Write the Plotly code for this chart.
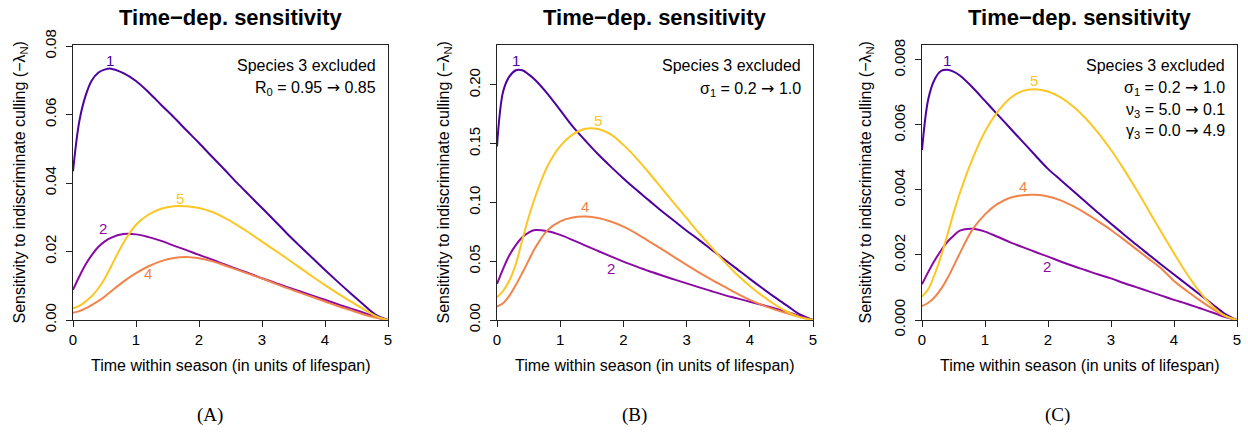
import plotly.graph_objects as go

# ---------------- data ----------------
t = [0, 0.1, 0.2, 0.3, 0.4, 0.5, 0.6, 0.8, 1.0, 1.2, 1.4, 1.6, 1.8, 2.0, 2.2, 2.4, 2.6, 2.8,
     3.0, 3.2, 3.4, 3.6, 3.8, 4.0, 4.2, 4.4, 4.6, 4.8, 5.0]

# Panel A: R0 = 0.95 -> 0.85
A1 = [0.0434, 0.0580, 0.0655, 0.0700, 0.0722, 0.0731, 0.0734, 0.0721, 0.0698, 0.0665, 0.0628, 0.0592, 0.0554, 0.0517, 0.0478, 0.0440, 0.0401, 0.0364,
      0.0327, 0.0290, 0.0252, 0.0216, 0.0181, 0.0146, 0.0112, 0.0079, 0.0047, 0.0016, 0.0]
A2 = [0.0088, 0.0127, 0.0162, 0.0190, 0.0213, 0.0229, 0.0240, 0.0251, 0.0250, 0.0242, 0.0231, 0.0217, 0.0204, 0.0190, 0.0177, 0.0163, 0.0149, 0.0136,
      0.0122, 0.0109, 0.0096, 0.0084, 0.0071, 0.0059, 0.0046, 0.0034, 0.0022, 0.0009, 0.0]
A4 = [0.0021, 0.0026, 0.0034, 0.0044, 0.0055, 0.0068, 0.0083, 0.0112, 0.0137, 0.0157, 0.0172, 0.0181, 0.0184, 0.0180, 0.0172, 0.0160, 0.0147, 0.0134,
      0.0121, 0.0107, 0.0093, 0.0080, 0.0067, 0.0054, 0.0041, 0.0029, 0.0017, 0.0007, 0.0]
A5 = [0.0034, 0.0041, 0.0054, 0.0070, 0.0092, 0.0120, 0.0155, 0.0225, 0.0278, 0.0308, 0.0325, 0.0332, 0.0332, 0.0327, 0.0316, 0.0299, 0.0278, 0.0254,
      0.0229, 0.0204, 0.0179, 0.0153, 0.0127, 0.0102, 0.0078, 0.0055, 0.0033, 0.0012, 0.0]

# Panel B: sigma1 = 0.2 -> 1.0
B1 = [0.1477, 0.1950, 0.2075, 0.2125, 0.2125, 0.2090, 0.2045, 0.1925, 0.1785, 0.1645, 0.1525, 0.1410, 0.1305, 0.1205, 0.1110, 0.1020, 0.0930, 0.0845,
      0.0760, 0.0680, 0.0597, 0.0515, 0.0433, 0.0350, 0.0270, 0.0192, 0.0118, 0.0045, 0.0]
B2 = [0.0307, 0.0440, 0.0555, 0.0640, 0.0705, 0.0744, 0.0765, 0.0755, 0.0724, 0.0680, 0.0633, 0.0587, 0.0542, 0.0497, 0.0456, 0.0417, 0.0381, 0.0346,
      0.0312, 0.0278, 0.0244, 0.0212, 0.0184, 0.0156, 0.0127, 0.0098, 0.0067, 0.0034, 0.0]
B4 = [0.0114, 0.0145, 0.0210, 0.0300, 0.0400, 0.0505, 0.0610, 0.0765, 0.0840, 0.0873, 0.0880, 0.0868, 0.0838, 0.0795, 0.0738, 0.0672, 0.0605, 0.0537,
      0.0469, 0.0404, 0.0342, 0.0283, 0.0225, 0.0172, 0.0127, 0.0088, 0.0055, 0.0024, 0.0]
B5 = [0.0193, 0.0250, 0.0340, 0.0480, 0.0680, 0.0875, 0.1040, 0.1310, 0.1480, 0.1580, 0.1628, 0.1625, 0.1580, 0.1490, 0.1380, 0.1255, 0.1125, 0.0995,
      0.0866, 0.0738, 0.0615, 0.0495, 0.0385, 0.0290, 0.0205, 0.0130, 0.0068, 0.0022, 0.0]

# Panel C: sigma1, nu3, gamma3 changed
C1 = [0.00523, 0.00680, 0.00740, 0.00766, 0.00770, 0.00764, 0.00752, 0.00716, 0.00674, 0.00632, 0.00590, 0.00548, 0.00506, 0.00465, 0.00431, 0.00397, 0.00363, 0.00329,
      0.00296, 0.00264, 0.00232, 0.00201, 0.00170, 0.00140, 0.00110, 0.00080, 0.00050, 0.00020, 0.0]
C2 = [0.00110, 0.00148, 0.00183, 0.00213, 0.00240, 0.00259, 0.00275, 0.00281, 0.00272, 0.00256, 0.00239, 0.00224, 0.00209, 0.00195, 0.00180, 0.00166, 0.00153, 0.00140,
      0.00128, 0.00114, 0.00101, 0.00088, 0.00075, 0.00062, 0.00050, 0.00037, 0.00024, 0.00010, 0.0]
C4 = [0.00043, 0.00053, 0.00070, 0.00095, 0.00127, 0.00165, 0.00205, 0.00278, 0.00325, 0.00357, 0.00376, 0.00384, 0.00385, 0.00380, 0.00368, 0.00350, 0.00328, 0.00303,
      0.00277, 0.00248, 0.00218, 0.00188, 0.00158, 0.00120, 0.00090, 0.00062, 0.00036, 0.00013, 0.0]
C5 = [0.00072, 0.00095, 0.00140, 0.00195, 0.00260, 0.00328, 0.00390, 0.00495, 0.00580, 0.00640, 0.00682, 0.00705, 0.00710, 0.00703, 0.00685, 0.00657, 0.00620, 0.00575,
      0.00523, 0.00465, 0.00402, 0.00336, 0.00270, 0.00205, 0.00143, 0.00089, 0.00045, 0.00014, 0.0]

species = ["1", "2", "4", "5"]
colors = {"1": "#4C02A1", "2": "#8B0AA5", "4": "#F1844B", "5": "#FCC625"}

ARROW = "<span style=\"font-family:'DejaVu Sans'\">\u2192</span>"

panels = [
    {"series": {"1": A1, "2": A2, "4": A4, "5": A5},
     "ymax": 0.0803, "ytick": [0, 0.02, 0.04, 0.06, 0.08], "fmt": ".2f",
     "labels": {"1": (0.59, 0.0759), "2": (0.48, 0.0266), "4": (1.19, 0.0137), "5": (1.70, 0.0356)},
     "notes": ["Species 3 excluded", "R<sub>0</sub> = 0.95 " + ARROW + " 0.85"],
     "tag": "(A)"},
    {"series": {"1": B1, "2": B2, "4": B4, "5": B5},
     "ymax": 0.234, "ytick": [0, 0.05, 0.10, 0.15, 0.20], "fmt": ".2f",
     "labels": {"1": (0.30, 0.221), "2": (1.80, 0.044), "4": (1.40, 0.0965), "5": (1.60, 0.170)},
     "notes": ["Species 3 excluded", "\u03c3<sub>1</sub> = 0.2 " + ARROW + " 1.0"],
     "tag": "(B)"},
    {"series": {"1": C1, "2": C2, "4": C4, "5": C5},
     "ymax": 0.00846, "ytick": [0, 0.002, 0.004, 0.006, 0.008], "fmt": ".3f",
     "labels": {"1": (0.39, 0.00798), "2": (1.99, 0.00164), "4": (1.60, 0.00412), "5": (1.78, 0.00736)},
     "notes": ["Species 3 excluded", "\u03c3<sub>1</sub> = 0.2 " + ARROW + " 1.0",
               "\u03bd<sub>3</sub> = 5.0 " + ARROW + " 0.1", "\u03b3<sub>3</sub> = 0.0 " + ARROW + " 4.9"],
     "tag": "(C)"},
]

title_text = "Time\u2212dep. sensitivity"
xlab = "Time within season (in units of lifespan)"
ylab = "Sensitivity to indiscriminate culling (\u2212\u03bb<sub>N</sub>)"
xticks = [0, 1, 2, 3, 4, 5]

# ---------------- layout geometry (pixels) ----------------
W, H = 1248, 436
left_px = [73, 497, 922]
right_px = [388, 813, 1237]
top_px, bot_px = 45, 320
ytitle_px = [20, 444, 866]
tag_px = [210, 634, 1057]
note_y_px = [[65, 88], [65, 89], [65, 88, 110, 131]]

FONT = "Liberation Sans, Arial, Helvetica, sans-serif"
fig = go.Figure()
annotations = []
layout = dict(width=W, height=H, margin=dict(l=0, r=0, t=0, b=0, autoexpand=False),
              paper_bgcolor="white", plot_bgcolor="white", showlegend=False,
              font=dict(family=FONT, size=15, color="black"))

for i, p in enumerate(panels):
    k = "" if i == 0 else str(i + 1)
    xa, ya = "x" + k, "y" + k
    for s in species:
        fig.add_trace(go.Scatter(x=t, y=p["series"][s], mode="lines",
                                 line=dict(color=colors[s], width=2, shape="spline", smoothing=1.0),
                                 xaxis=xa, yaxis=ya, hoverinfo="skip"))
    xd = [left_px[i] / W, right_px[i] / W]
    yd = [(H - bot_px) / H, (H - top_px) / H]
    layout["xaxis" + k] = dict(domain=xd, range=[0, 5], anchor=ya, tickvals=xticks, automargin=False,
                               showline=True, mirror=True, linecolor="#222", linewidth=1,
                               ticks="outside", ticklen=6, tickcolor="#222", showgrid=False,
                               zeroline=False, tickfont=dict(size=15))
    layout["yaxis" + k] = dict(domain=yd, range=[0, p["ymax"]], anchor=xa, tickvals=p["ytick"],
                               tickformat=p["fmt"], tickangle=-90, automargin=False,
                               showline=True, mirror=True, linecolor="#222", linewidth=1,
                               ticks="outside", ticklen=6, tickcolor="#222", showgrid=False,
                               zeroline=False, tickfont=dict(size=15), ticklabelstandoff=4)
    # curve number labels
    for s in species:
        lx, ly = p["labels"][s]
        annotations.append(dict(x=lx, y=ly, xref=xa, yref=ya, text=s, showarrow=False,
                                font=dict(size=15, color=colors[s]), xanchor="center", yanchor="middle"))
    # notes in top-right corner
    for j, note in enumerate(p["notes"]):
        annotations.append(dict(x=(right_px[i] - 10) / W, y=(H - note_y_px[i][j]) / H,
                                xref="paper", yref="paper", text=note, showarrow=False,
                                xanchor="right", yanchor="middle", font=dict(size=16)))
    cx = (left_px[i] + right_px[i]) / 2 / W
    # title
    annotations.append(dict(x=cx, y=(H - 18) / H, xref="paper", yref="paper", text="<b>" + title_text + "</b>",
                            showarrow=False, xanchor="center", yanchor="middle", font=dict(size=22)))
    # x title
    annotations.append(dict(x=cx, y=(H - 365) / H, xref="paper", yref="paper", text=xlab,
                            showarrow=False, xanchor="center", yanchor="middle", font=dict(size=16)))
    # y title
    annotations.append(dict(x=ytitle_px[i] / W, y=(H - (top_px + bot_px) / 2) / H, xref="paper", yref="paper",
                            text=ylab, textangle=-90, showarrow=False, xanchor="center", yanchor="middle",
                            font=dict(size=16)))
    # panel tag
    annotations.append(dict(x=tag_px[i] / W, y=(H - 415) / H, xref="paper", yref="paper", text=p["tag"],
                            showarrow=False, xanchor="center", yanchor="middle",
                            font=dict(size=19, family="Liberation Serif, Times New Roman, serif")))

layout["annotations"] = annotations
fig.update_layout(**layout)
fig.write_html("out.html")
